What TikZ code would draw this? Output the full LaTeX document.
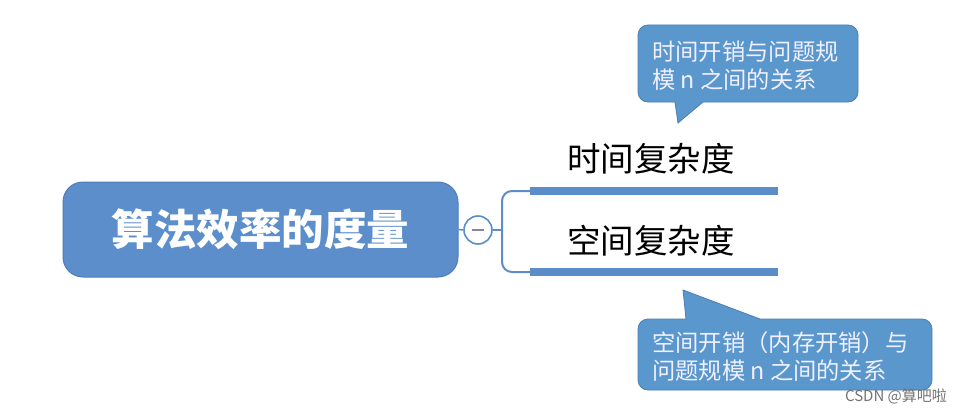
\documentclass[tikz,border=0pt]{standalone}
\usepackage{fontspec}
\setmainfont{Noto Sans CJK SC}
\newfontfamily\cjk{Noto Sans CJK SC}
\definecolor{mainblue}{HTML}{5C8ECC}
\definecolor{mainborder}{HTML}{4E7DB8}
\definecolor{calloutblue}{HTML}{5A97CD}
\definecolor{calloutborder}{HTML}{4A80B4}
\definecolor{linkblue}{HTML}{5B8DC9}
\definecolor{minuscol}{HTML}{8A82A8}
\begin{document}
\begin{tikzpicture}[x=1pt,y=-1pt,
  mainbox/.style={draw=mainborder,line width=1pt,fill=mainblue,rounded corners=20pt,
    minimum width=395pt,minimum height=95pt,inner sep=0pt,text=white,
    font=\cjk\bfseries\fontsize{42.5}{48}\selectfont},
  barbox/.style={fill=linkblue,minimum width=248pt,minimum height=8pt,inner sep=0pt},
  branchtext/.style={font=\cjk\fontsize{33.5}{38}\selectfont,text=black,inner sep=0pt},
  minusbox/.style={circle,draw=linkblue,line width=1.6pt,fill=white,minimum size=28pt,inner sep=0pt},
  link/.style={draw=linkblue,line width=2pt},
  callout/.style={fill=calloutblue,draw=calloutborder,line width=0.8pt},
  callouttext/.style={font=\cjk\fontsize{23.3}{28}\selectfont,text=white!94!blue,align=left,inner sep=0pt,anchor=west}
]
\useasboundingbox (0,0) rectangle (967,412);
\fill[white] (0,0) rectangle (967,412);

% callouts
\path[callout] (675,102) [sharp corners] -- (678,123) -- (703,102) [rounded corners=10pt] -- (858,102) -- (858,25) -- (638,25) -- (638,102) [sharp corners] -- cycle;
\path[callout] (686,319) [sharp corners] -- (683,290) -- (760,319) [rounded corners=10pt] -- (932,319) -- (932,390) -- (638,390) -- (638,319) [sharp corners] -- cycle;
\node[callouttext] (c1) at (652,66) {时间开销与问题规\\模 n 之间的关系};
\node[callouttext] (c2) at (652,356) {空间开销（内存开销）与\\问题规模 n 之间的关系};

% main topic
\node[mainbox] (main) at (260.5,229.5) {算法效率的度量};
\node[minusbox] (minus) at (478,230) {};
\draw[minuscol,line width=1.6pt] ([xshift=-6pt]minus.center) -- ([xshift=6pt]minus.center);
\coordinate (fork) at (502,230);

\node[barbox] (top) at (654,191) {};
\node[barbox] (bot) at (654,272) {};
\node[branchtext] (t1) at (651,159) {时间复杂度};
\node[branchtext] (t2) at (651,241) {空间复杂度};

\draw[link,line width=1.5pt] (main.east) -- (minus.west);
\draw[link] (minus.east) -- (fork);
\draw[link,rounded corners=10pt] (top.west) -| (fork) |- (bot.west);

\node[font=\cjk\fontsize{15}{17}\selectfont,text=black!55,inner sep=0pt] (wm) at (896,396) {CSDN @算吧啦};
\end{tikzpicture}
\end{document}
